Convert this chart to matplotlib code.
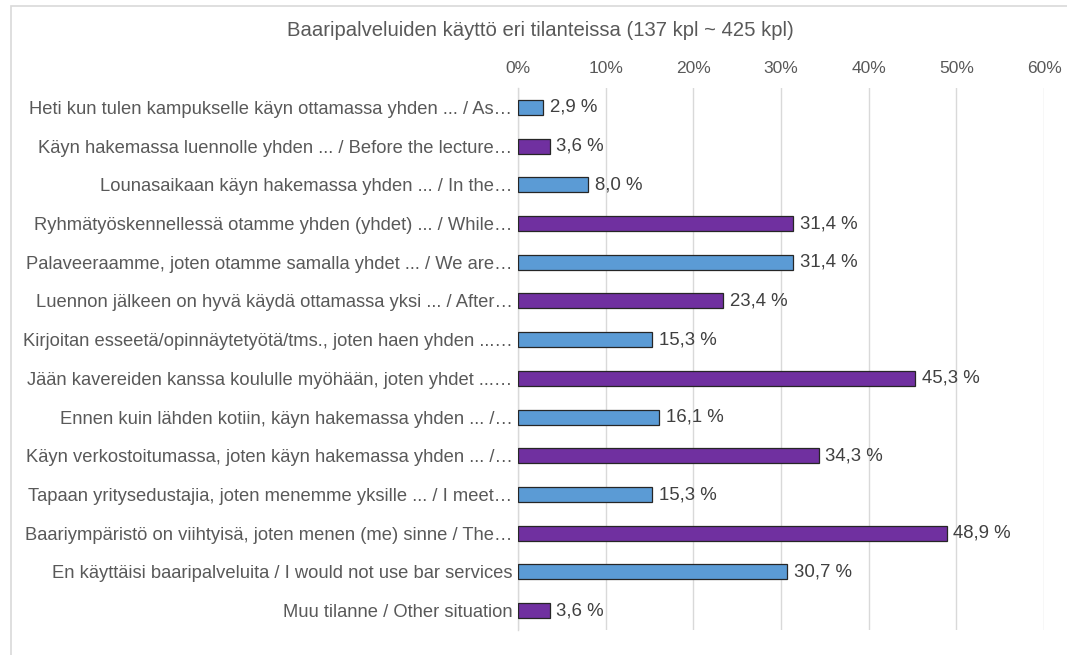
import matplotlib
matplotlib.use("Agg")
import matplotlib.pyplot as plt
from matplotlib.patches import Rectangle

TITLE = "Baaripalveluiden käyttö eri tilanteissa (137 kpl ~ 425 kpl)"
CATEGORIES = [
    "Heti kun tulen kampukselle käyn ottamassa yhden ... / As…",
    "Käyn hakemassa luennolle yhden ... / Before the lecture…",
    "Lounasaikaan käyn hakemassa yhden ... / In the…",
    "Ryhmätyöskennellessä otamme yhden (yhdet) ... / While…",
    "Palaveeraamme, joten otamme samalla yhdet ... / We are…",
    "Luennon jälkeen on hyvä käydä ottamassa yksi ... / After…",
    "Kirjoitan esseetä/opinnäytetyötä/tms., joten haen yhden ...…",
    "Jään kavereiden kanssa koululle myöhään, joten yhdet ...…",
    "Ennen kuin lähden kotiin, käyn hakemassa yhden ... /…",
    "Käyn verkostoitumassa, joten käyn hakemassa yhden ... /…",
    "Tapaan yritysedustajia, joten menemme yksille ... / I meet…",
    "Baariympäristö on viihtyisä, joten menen (me) sinne / The…",
    "En käyttäisi baaripalveluita / I would not use bar services",
    "Muu tilanne / Other situation",
]
VALUES = [2.9, 3.6, 8.0, 31.4, 31.4, 23.4, 15.3, 45.3, 16.1, 34.3, 15.3, 48.9, 30.7, 3.6]
XTICKS = [0, 10, 20, 30, 40, 50, 60]

BLUE = "#5B9BD5"
PURPLE = "#7030A0"
TEXT = "#595959"
GRID = "#D9D9D9"

plt.rcParams["font.family"] = ["Liberation Sans", "DejaVu Sans"]

W, H = 1067, 655
fig = plt.figure(figsize=(W / 100, H / 100), dpi=100)

# outer light frame
fig.patches.append(Rectangle((11 / W, -0.05), 1.2, 1 - 6 / H + 0.05, transform=fig.transFigure,
                             fill=False, edgecolor="#D9D9D9", linewidth=1.2))

ax = fig.add_axes([518 / W, 1 - 630 / H, (1044 - 518) / W, (630 - 88) / H])

n = len(CATEGORIES)
ypos = list(range(n))
colors = [BLUE if i % 2 == 0 else PURPLE for i in range(n)]
ax.barh(ypos, VALUES, height=0.39, color=colors, edgecolor="#262626", linewidth=0.9, zorder=3)

for y, v in zip(ypos, VALUES):
    ax.text(v + 0.75, y, f"{v:.1f} %".replace(".", ","), va="center", ha="left",
            fontsize=13.4, color="#404040")

ax.set_xlim(0, 60)
ax.set_ylim(n - 0.5, -0.5)
ax.set_xticks(XTICKS)
ax.set_xticklabels([f"{t}%" for t in XTICKS])
ax.xaxis.tick_top()
ax.set_yticks(ypos)
ax.set_yticklabels(CATEGORIES)
ax.tick_params(axis="x", length=0, pad=9, labelsize=12.5, labelcolor=TEXT)
ax.tick_params(axis="y", length=0, pad=4, labelsize=13.2, labelcolor=TEXT)
ax.grid(axis="x", color=GRID, linewidth=1, zorder=0)
for s in ["top", "right", "bottom"]:
    ax.spines[s].set_visible(False)
ax.spines["left"].set_color(GRID)
ax.spines["left"].set_linewidth(1)

fig.text(540 / W, 1 - 31 / H, TITLE, ha="center", va="center", fontsize=14.6, color=TEXT)

fig.savefig("out.png", dpi=100)
